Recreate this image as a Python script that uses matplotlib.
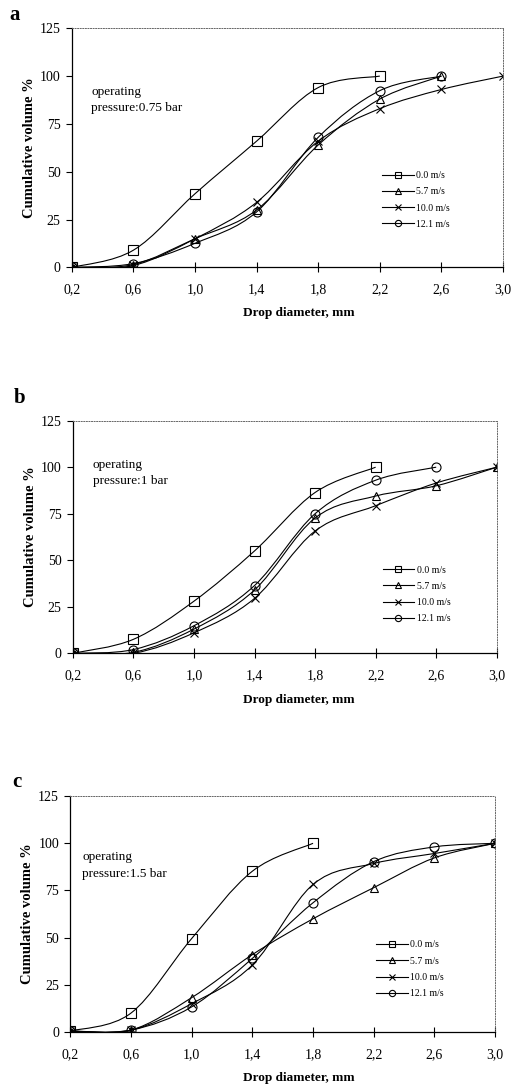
import numpy as np
import matplotlib.pyplot as plt
from matplotlib.path import Path
from matplotlib.patches import PathPatch
from matplotlib.lines import Line2D

plt.rcParams['font.family'] = ['Liberation Serif', 'DejaVu Serif']

diam = [0.2, 0.6, 1.0, 1.4, 1.8, 2.2, 2.6, 3.0]
speeds = ["0.0 m/s", "5.7 m/s", "10.0 m/s", "12.1 m/s"]
markers = ["s", "^", "x", "o"]

# panel a, 0.75 bar
a_00 = [0, 9, 38.5, 66, 94, 100]
a_57 = [0, 1.5, 15, 30, 64, 88, 100]
a_100 = [0, 1, 15, 34, 66, 83, 93, 100]
a_121 = [0, 2, 12.6, 29, 68, 92.4, 100]

# panel b, 1 bar
b_00 = [0, 7.5, 28, 55, 86.4, 100]
b_57 = [0, 0.5, 13, 34, 72.7, 84.5, 90, 100]
b_100 = [0, 0, 11, 29.5, 65.7, 79.3, 91.5, 100]
b_121 = [0, 2, 14.8, 36.4, 75, 93, 100]

# panel c, 1.5 bar
c_00 = [0.5, 10, 49.5, 85.2, 100]
c_57 = [0.5, 1, 18.2, 41, 60, 76.5, 92.3, 100]
c_100 = [0.5, 1, 15, 35.5, 78.2, 89.3, 94.6, 100]
c_121 = [0.5, 1, 13.3, 39, 68.5, 90.3, 98.1, 100]

panels = [
    ("a", "operating\npressure:0.75 bar", [a_00, a_57, a_100, a_121]),
    ("b", "operating\npressure:1 bar", [b_00, b_57, b_100, b_121]),
    ("c", "operating\npressure:1.5 bar", [c_00, c_57, c_100, c_121]),
]

# axes boxes in figure fraction, plus text / legend anchors in axes fraction
boxes = [(0.137, 0.754, 0.823, 0.220), (0.139, 0.399, 0.809, 0.214), (0.134, 0.0506, 0.811, 0.217)]
text_pos = [(0.045, 0.70), (0.047, 0.775), (0.028, 0.705)]
leg_pos = [(0.70, 0.44), (0.71, 0.415), (0.70, 0.425)]
letter_pos = [(0.028, 0.986), (0.038, 0.634), (0.032, 0.281)]
xlabel_pos = [(0.57, 0.712), (0.57, 0.356), (0.57, 0.008)]


def smooth_path(x, y):
    # excel-like smoothed line (bezier through the points)
    pts = np.column_stack([x, y])
    n = len(pts)
    verts = [pts[0]]
    codes = [Path.MOVETO]
    for i in range(n - 1):
        p0 = pts[max(i - 1, 0)]
        p1 = pts[i]
        p2 = pts[i + 1]
        p3 = pts[min(i + 2, n - 1)]
        verts += [p1 + (p2 - p0) / 6, p2 - (p3 - p1) / 6, p2]
        codes += [Path.CURVE4] * 3
    return Path(verts, codes)


fig = plt.figure(figsize=(5.24, 10.87), dpi=100)

for k, (letter, label, series) in enumerate(panels):
    ax = fig.add_axes(boxes[k])
    for vals, m, name in zip(series, markers, speeds):
        xs = diam[:len(vals)]
        ax.add_patch(PathPatch(smooth_path(xs, vals), fill=False, edgecolor="black", lw=0.8))
        ms = 7 if m == "s" else 6.5 if m == "o" else 6
        ax.plot(xs, vals, ls="none", marker=m, ms=ms, mfc="none", mec="black", mew=0.8)

    ax.set_xlim(0.2, 3.0)
    ax.set_ylim(0, 125)
    ax.set_xticks(diam)
    ax.set_xticklabels([("%.1f" % d).replace(".", ",") for d in diam], fontsize=10)
    ax.set_yticks([0, 25, 50, 75, 100, 125])
    ax.set_yticklabels(["0", "25", "50", "75", "100", "125"], fontsize=10)
    ax.tick_params(axis="x", direction="inout", length=7, width=0.8, pad=8)
    ax.tick_params(axis="y", direction="out", length=4, width=0.8, pad=4)
    ax.spines["left"].set_linewidth(0.9)
    ax.spines["bottom"].set_linewidth(0.9)
    for s in ["top", "right"]:
        ax.spines[s].set_linestyle(":")
        ax.spines[s].set_linewidth(0.7)
        ax.spines[s].set_color("#666666")
    ax.set_ylabel("Cumulative volume %", fontsize=10.5, fontweight="bold", labelpad=3)

    ax.text(text_pos[k][0], text_pos[k][1], label, transform=ax.transAxes,
            fontsize=9.5, va="center", linespacing=1.5)

    handles = [Line2D([], [], color="black", lw=0.8, marker=m, ms=4.5, mfc="none", mec="black", mew=0.8)
               for m in markers]
    ax.legend(handles, speeds, loc="upper left", bbox_to_anchor=leg_pos[k], frameon=False,
              fontsize=7, handlelength=3.2, handletextpad=0.3, labelspacing=0.75)

    fig.text(letter_pos[k][0], letter_pos[k][1], letter, fontsize=15, fontweight="bold",
             ha="center", va="center")
    fig.text(xlabel_pos[k][0], xlabel_pos[k][1], "Drop diameter, mm", fontsize=9.5,
             fontweight="bold", ha="center", va="center")

fig.savefig("out.png", dpi=100)
